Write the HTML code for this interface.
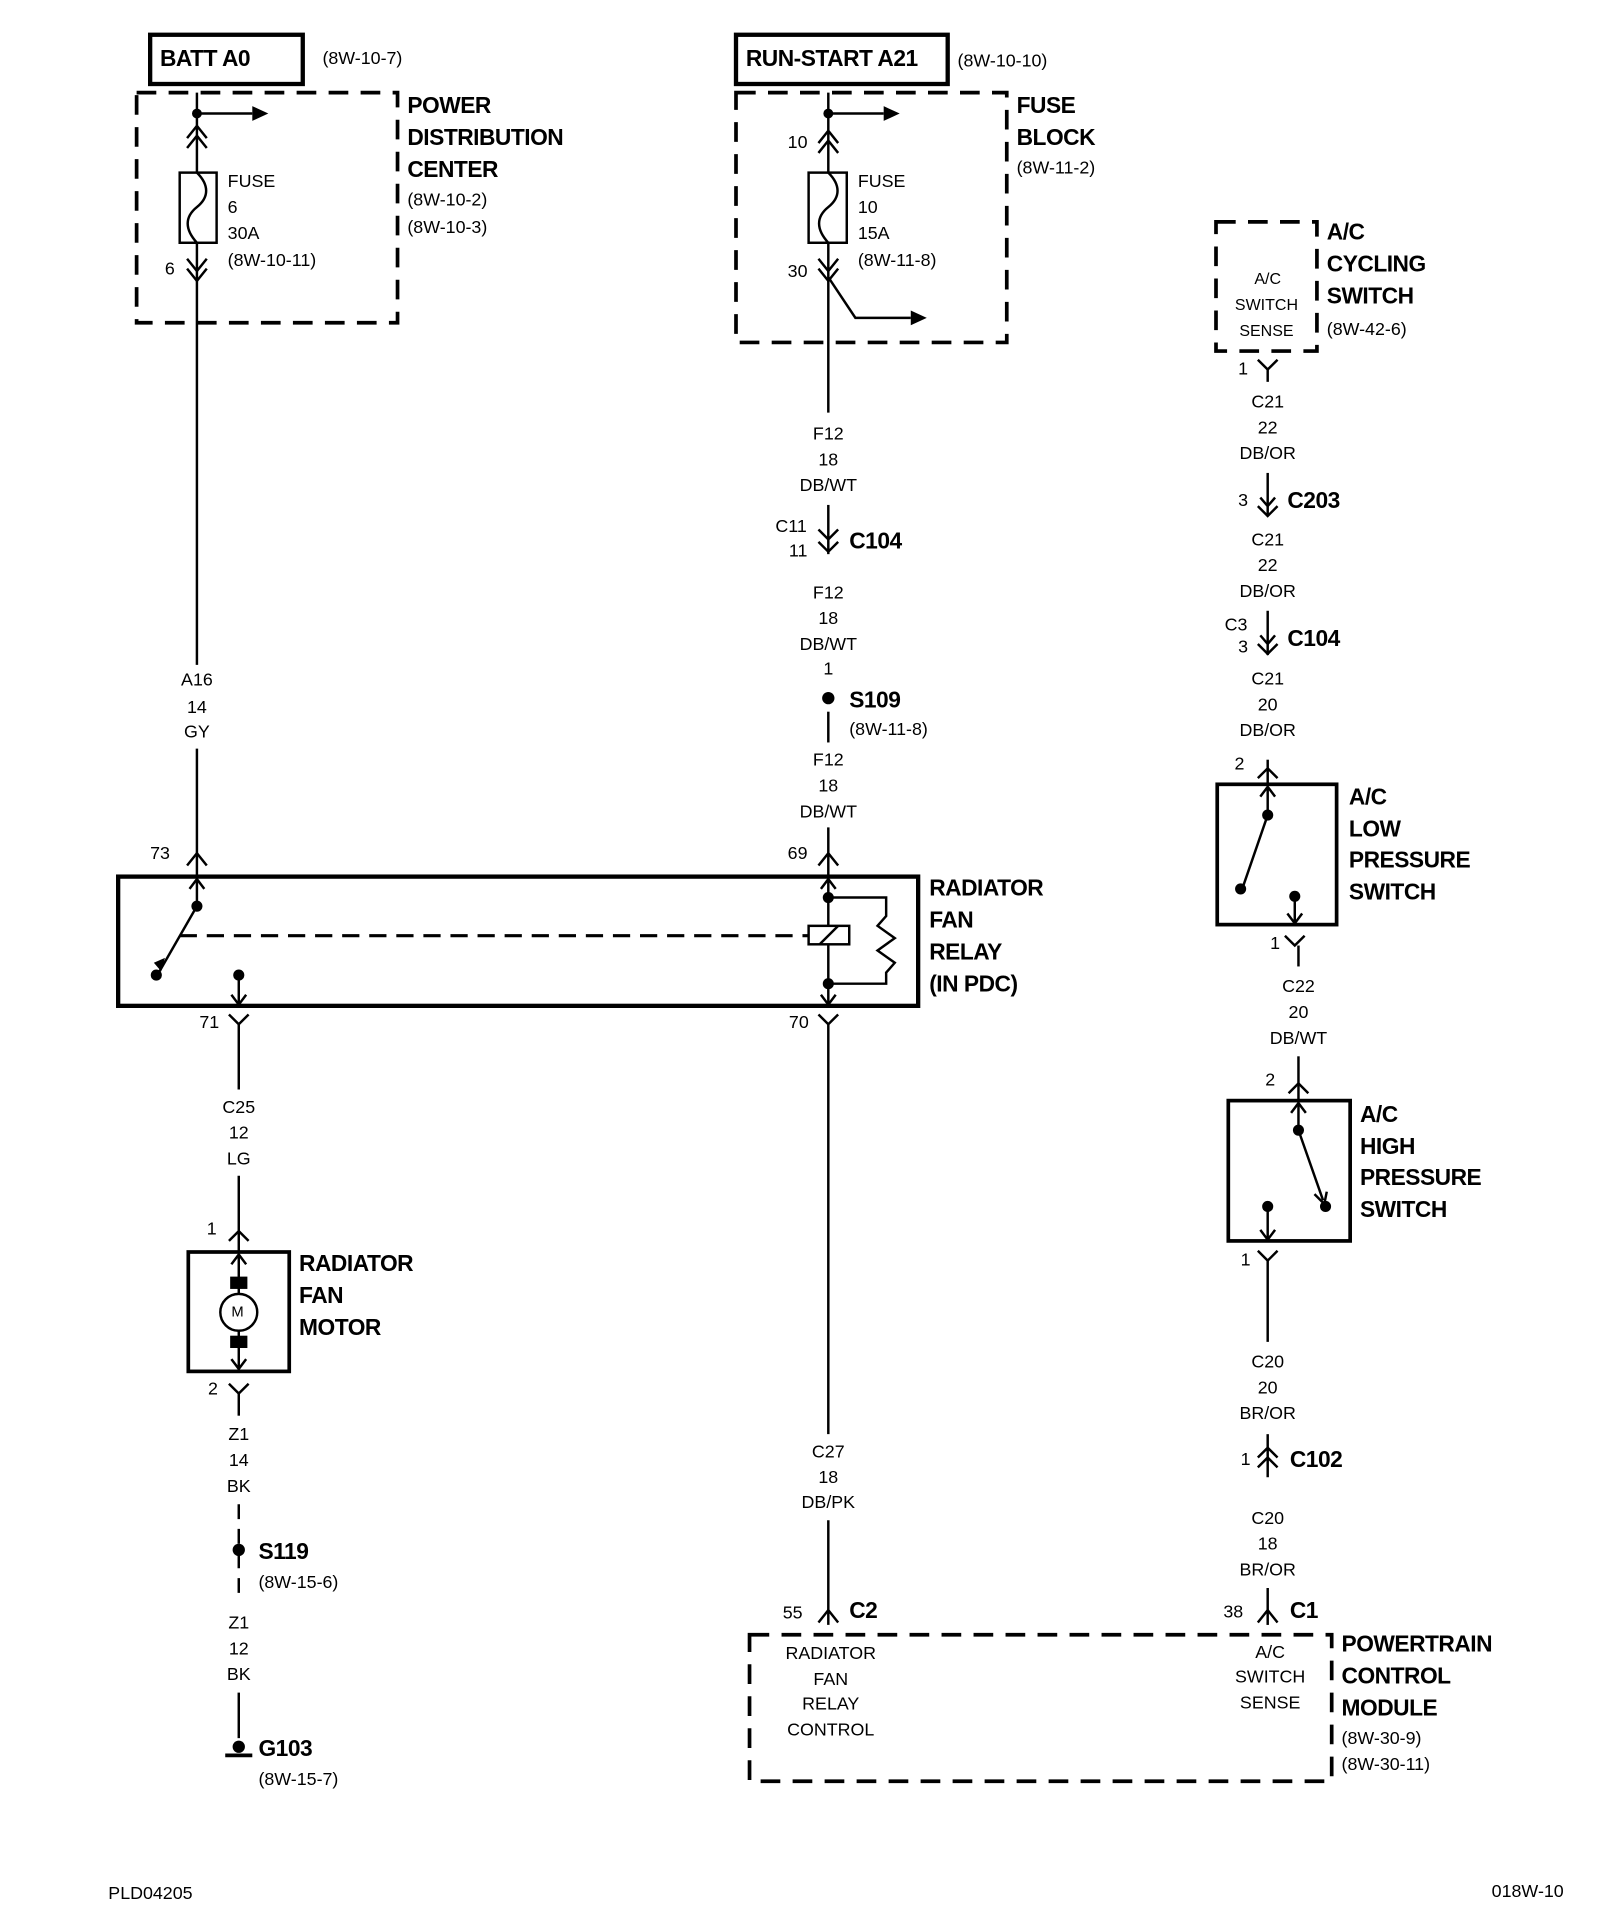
<!DOCTYPE html>
<html><head><style>
html,body{margin:0;padding:0;background:#fff;}
svg{display:block}
text{font-family:"Liberation Sans",sans-serif;fill:#000;dominant-baseline:central}
.t{font-size:14.5px}
.b{font-size:18.5px;font-weight:bold;letter-spacing:-0.4px}
.c{text-anchor:middle}
</style></head><body>
<svg width="1600" height="1928" viewBox="0 0 1300 1566" xmlns="http://www.w3.org/2000/svg">
<g fill="none" stroke="#000" stroke-width="2">
<rect x="122" y="28" width="124" height="40" stroke-width="3.5"/>
<rect x="111" y="75" width="212" height="187" stroke-width="3" stroke-dasharray="16,10"/>
<line x1="160" y1="75" x2="160" y2="540"/>
<line x1="160" y1="92" x2="205" y2="92"/>
<path d="M152 112 L160 102 L168 112 M152 120 L160 110 L168 120"/>
<rect x="146" y="140" width="30" height="57" fill="#fff"/>
<path d="M160 140 C170 150,170 160,160 168 C150 176,150 186,160 197"/>
<path d="M152 210 L160 220 L168 210 M152 218 L160 228 L168 218"/>
<line x1="160" y1="608" x2="160" y2="712"/>
<path d="M152 703 L160 693 L168 703"/>
<rect x="96" y="712" width="650" height="105" stroke-width="3.5"/>
<line x1="160" y1="714" x2="160" y2="736"/>
<path d="M154 722 L160 714 L166 722"/>
<line x1="160" y1="736" x2="129" y2="790"/>
<line x1="146" y1="760" x2="657" y2="760" stroke-width="2.5" stroke-dasharray="14,8"/>
<rect x="657" y="752" width="33" height="15"/>
<line x1="666" y1="767" x2="681" y2="752"/>
<line x1="673" y1="714" x2="673" y2="752"/>
<line x1="673" y1="767" x2="673" y2="815"/>
<path d="M667 722 L673 714 L679 722"/>
<path d="M667 808 L673 816 L679 808"/>
<path d="M673 729 L720 729 L720 744 L713 752 L727 762 L713 772 L727 782 L720 790 L720 799 L673 799"/>
<line x1="194" y1="792" x2="194" y2="815"/>
<path d="M188 808 L194 816 L200 808"/>
<path d="M186 824 L194 832 L202 824"/>
<line x1="194" y1="832" x2="194" y2="885"/>
<path d="M665 824 L673 832 L681 824"/>
<line x1="673" y1="832" x2="673" y2="1165"/>
<line x1="194" y1="955" x2="194" y2="1017"/>
<path d="M186 1008 L194 1000 L202 1008"/>
<rect x="153" y="1017" width="82" height="97" stroke-width="3"/>
<line x1="194" y1="1019" x2="194" y2="1112"/>
<path d="M188 1027 L194 1019 L200 1027 M188 1104 L194 1112 L200 1104"/>
<circle cx="194" cy="1066" r="15" fill="#fff"/>
<path d="M186 1124 L194 1132 L202 1124"/>
<line x1="194" y1="1132" x2="194" y2="1150"/>
<line x1="194" y1="1222" x2="194" y2="1300" stroke-dasharray="12,8"/>
<line x1="194" y1="1375" x2="194" y2="1412"/>
<line x1="183" y1="1426" x2="205" y2="1426" stroke-width="3"/>
<rect x="598" y="28" width="172" height="40" stroke-width="3.5"/>
<rect x="598" y="75" width="220" height="203" stroke-width="3" stroke-dasharray="16,10"/>
<line x1="673" y1="75" x2="673" y2="335"/>
<line x1="673" y1="92" x2="718" y2="92"/>
<path d="M665 116 L673 106 L681 116 M665 124 L673 114 L681 124"/>
<rect x="657" y="140" width="31" height="57" fill="#fff"/>
<path d="M673 140 C683 150,683 160,673 168 C663 176,663 186,673 197"/>
<path d="M665 210 L673 220 L681 210 M665 218 L673 228 L681 218"/>
<path d="M673 225 L695 258 L740 258"/>
<line x1="673" y1="410" x2="673" y2="450"/>
<path d="M665 430 L673 438 L681 430 M665 440 L673 448 L681 440"/>
<line x1="673" y1="578" x2="673" y2="603"/>
<line x1="673" y1="672" x2="673" y2="712"/>
<path d="M665 703 L673 693 L681 703"/>
<line x1="673" y1="1235" x2="673" y2="1320"/>
<path d="M665 1318 L673 1308 L681 1318"/>
<rect x="609" y="1328" width="473" height="119" stroke-width="3" stroke-dasharray="16,10"/>
<rect x="988" y="180" width="82" height="105" stroke-width="3" stroke-dasharray="16,10"/>
<path d="M1022 292 L1030 300 L1038 292"/>
<line x1="1030" y1="300" x2="1030" y2="310"/>
<line x1="1030" y1="384" x2="1030" y2="418"/>
<path d="M1024 404 L1030 411 L1036 404 M1022 411 L1030 419 L1038 411"/>
<line x1="1030" y1="496" x2="1030" y2="532"/>
<path d="M1024 516 L1030 523 L1036 516 M1022 523 L1030 531 L1038 523"/>
<line x1="1030" y1="617" x2="1030" y2="637"/>
<path d="M1022 632 L1030 624 L1038 632"/>
<rect x="989" y="637" width="97" height="114" stroke-width="3"/>
<line x1="1030" y1="639" x2="1030" y2="662"/>
<path d="M1024 647 L1030 639 L1036 647"/>
<line x1="1030" y1="662" x2="1010" y2="720"/>
<line x1="1052" y1="728" x2="1052" y2="749"/>
<path d="M1046 742 L1052 750 L1058 742"/>
<path d="M1044 760 L1052 768 L1060 760"/>
<line x1="1055" y1="768" x2="1055" y2="785"/>
<line x1="1055" y1="858" x2="1055" y2="894"/>
<path d="M1047 888 L1055 880 L1063 888"/>
<rect x="998" y="894" width="99" height="114" stroke-width="3"/>
<line x1="1055" y1="896" x2="1055" y2="918"/>
<path d="M1049 904 L1055 896 L1061 904"/>
<line x1="1055" y1="918" x2="1075" y2="975"/>
<path d="M1068 970 L1076 978 L1078 968"/>
<line x1="1030" y1="980" x2="1030" y2="1006"/>
<path d="M1024 999 L1030 1007 L1036 999"/>
<path d="M1022 1016 L1030 1024 L1038 1016"/>
<line x1="1030" y1="1024" x2="1030" y2="1090"/>
<line x1="1030" y1="1165" x2="1030" y2="1200"/>
<path d="M1022 1184 L1030 1176 L1038 1184 M1022 1192 L1030 1184 L1038 1192"/>
<line x1="1030" y1="1290" x2="1030" y2="1320"/>
<path d="M1022 1318 L1030 1308 L1038 1318"/>
</g>
<g fill="#000">
<path d="M205 86 L218 92 L205 98Z"/>
<path d="M718 86 L731 92 L718 98Z"/>
<path d="M740 252 L753 258 L740 264Z"/>
<circle cx="160" cy="92" r="4"/><circle cx="673" cy="92" r="4"/>
<circle cx="160" cy="736" r="4.5"/><circle cx="127" cy="792" r="4.5"/>
<path d="M125 782 L131 789 L134 778Z"/>
<circle cx="194" cy="792" r="4.5"/>
<circle cx="673" cy="729" r="4.5"/><circle cx="673" cy="799" r="4.5"/>
<rect x="187" y="1037" width="14" height="10"/><rect x="187" y="1085" width="14" height="10"/>
<circle cx="194" cy="1259" r="5"/><circle cx="673" cy="567" r="5"/>
<circle cx="194" cy="1419" r="5"/>
<circle cx="1030" cy="662" r="4.5"/><circle cx="1008" cy="722" r="4.5"/><circle cx="1052" cy="728" r="4.5"/>
<circle cx="1055" cy="918" r="4.5"/><circle cx="1077" cy="980" r="4.5"/><circle cx="1030" cy="980" r="4.5"/>
</g>
<text class="b" x="130" y="47">BATT A0</text>
<text class="t" x="262" y="47">(8W-10-7)</text>
<text class="b" x="331" y="85">POWER</text>
<text class="b" x="331" y="111">DISTRIBUTION</text>
<text class="b" x="331" y="137">CENTER</text>
<text class="t" x="331" y="162">(8W-10-2)</text>
<text class="t" x="331" y="184">(8W-10-3)</text>
<text class="t" x="185" y="147">FUSE</text><text class="t" x="185" y="168">6</text>
<text class="t" x="185" y="189">30A</text><text class="t" x="185" y="211">(8W-10-11)</text>
<text class="t" x="134" y="218">6</text>
<text class="t c" x="160" y="552">A16</text><text class="t c" x="160" y="574">14</text><text class="t c" x="160" y="594">GY</text>
<text class="t" x="122" y="693">73</text>
<text class="t" x="162" y="830">71</text>
<text class="t" x="640" y="693">69</text>
<text class="t" x="641" y="830">70</text>
<text class="b" x="755" y="721">RADIATOR</text><text class="b" x="755" y="747">FAN</text>
<text class="b" x="755" y="773">RELAY</text><text class="b" x="755" y="799">(IN PDC)</text>
<text class="t c" x="194" y="899">C25</text><text class="t c" x="194" y="920">12</text><text class="t c" x="194" y="941">LG</text>
<text class="t" x="168" y="998">1</text>
<text class="t" x="188" y="1066" style="font-size:12px">M</text>
<text class="b" x="243" y="1026">RADIATOR</text><text class="b" x="243" y="1052">FAN</text><text class="b" x="243" y="1078">MOTOR</text>
<text class="t" x="169" y="1128">2</text>
<text class="t c" x="194" y="1165">Z1</text><text class="t c" x="194" y="1186">14</text><text class="t c" x="194" y="1207">BK</text>
<text class="b" x="210" y="1260">S119</text><text class="t" x="210" y="1285">(8W-15-6)</text>
<text class="t c" x="194" y="1318">Z1</text><text class="t c" x="194" y="1339">12</text><text class="t c" x="194" y="1360">BK</text>
<text class="b" x="210" y="1420">G103</text><text class="t" x="210" y="1445">(8W-15-7)</text>
<text class="b" x="606" y="47">RUN-START A21</text>
<text class="t" x="778" y="49">(8W-10-10)</text>
<text class="b" x="826" y="85">FUSE</text><text class="b" x="826" y="111">BLOCK</text>
<text class="t" x="826" y="136">(8W-11-2)</text>
<text class="t" x="640" y="115">10</text><text class="t" x="640" y="220">30</text>
<text class="t" x="697" y="147">FUSE</text><text class="t" x="697" y="168">10</text>
<text class="t" x="697" y="189">15A</text><text class="t" x="697" y="211">(8W-11-8)</text>
<text class="t c" x="673" y="352">F12</text><text class="t c" x="673" y="373">18</text><text class="t c" x="673" y="394">DB/WT</text>
<text class="t" x="630" y="427">C11</text><text class="t" x="641" y="447">11</text>
<text class="b" x="690" y="439">C104</text>
<text class="t c" x="673" y="481">F12</text><text class="t c" x="673" y="502">18</text><text class="t c" x="673" y="523">DB/WT</text>
<text class="t c" x="673" y="543">1</text>
<text class="b" x="690" y="568">S109</text><text class="t" x="690" y="592">(8W-11-8)</text>
<text class="t c" x="673" y="617">F12</text><text class="t c" x="673" y="638">18</text><text class="t c" x="673" y="659">DB/WT</text>
<text class="t c" x="673" y="1179">C27</text><text class="t c" x="673" y="1200">18</text><text class="t c" x="673" y="1220">DB/PK</text>
<text class="t" x="636" y="1310">55</text><text class="b" x="690" y="1308">C2</text>
<text class="t c" x="675" y="1343">RADIATOR</text><text class="t c" x="675" y="1364">FAN</text>
<text class="t c" x="675" y="1384">RELAY</text><text class="t c" x="675" y="1405">CONTROL</text>
<text class="t c" x="1032" y="1342">A/C</text><text class="t c" x="1032" y="1362">SWITCH</text><text class="t c" x="1032" y="1383">SENSE</text>
<text class="t" x="994" y="1309">38</text><text class="b" x="1048" y="1308">C1</text>
<text class="b" x="1090" y="1335">POWERTRAIN</text><text class="b" x="1090" y="1361">CONTROL</text><text class="b" x="1090" y="1387">MODULE</text>
<text class="t" x="1090" y="1412">(8W-30-9)</text><text class="t" x="1090" y="1433">(8W-30-11)</text>
<text class="t c" x="1030" y="227" style="font-size:13px">A/C</text>
<text class="t c" x="1029" y="248" style="font-size:13px">SWITCH</text>
<text class="t c" x="1029" y="269" style="font-size:13px">SENSE</text>
<text class="b" x="1078" y="188">A/C</text><text class="b" x="1078" y="214">CYCLING</text><text class="b" x="1078" y="240">SWITCH</text>
<text class="t" x="1078" y="267">(8W-42-6)</text>
<text class="t" x="1006" y="299">1</text>
<text class="t c" x="1030" y="326">C21</text><text class="t c" x="1030" y="347">22</text><text class="t c" x="1030" y="368">DB/OR</text>
<text class="t" x="1006" y="406">3</text><text class="b" x="1046" y="406">C203</text>
<text class="t c" x="1030" y="438">C21</text><text class="t c" x="1030" y="459">22</text><text class="t c" x="1030" y="480">DB/OR</text>
<text class="t" x="995" y="507">C3</text><text class="t" x="1006" y="525">3</text><text class="b" x="1046" y="518">C104</text>
<text class="t c" x="1030" y="551">C21</text><text class="t c" x="1030" y="572">20</text><text class="t c" x="1030" y="593">DB/OR</text>
<text class="t" x="1003" y="620">2</text>
<text class="b" x="1096" y="647">A/C</text><text class="b" x="1096" y="673">LOW</text>
<text class="b" x="1096" y="698">PRESSURE</text><text class="b" x="1096" y="724">SWITCH</text>
<text class="t" x="1032" y="766">1</text>
<text class="t c" x="1055" y="801">C22</text><text class="t c" x="1055" y="822">20</text><text class="t c" x="1055" y="843">DB/WT</text>
<text class="t" x="1028" y="877">2</text>
<text class="b" x="1105" y="905">A/C</text><text class="b" x="1105" y="931">HIGH</text>
<text class="b" x="1105" y="956">PRESSURE</text><text class="b" x="1105" y="982">SWITCH</text>
<text class="t" x="1008" y="1023">1</text>
<text class="t c" x="1030" y="1106">C20</text><text class="t c" x="1030" y="1127">20</text><text class="t c" x="1030" y="1148">BR/OR</text>
<text class="t" x="1008" y="1185">1</text><text class="b" x="1048" y="1185">C102</text>
<text class="t c" x="1030" y="1233">C20</text><text class="t c" x="1030" y="1254">18</text><text class="t c" x="1030" y="1275">BR/OR</text>
<text class="t" x="88" y="1538">PLD04205</text>
<text class="t" x="1212" y="1536">018W-10</text>
</svg>
</body></html>
